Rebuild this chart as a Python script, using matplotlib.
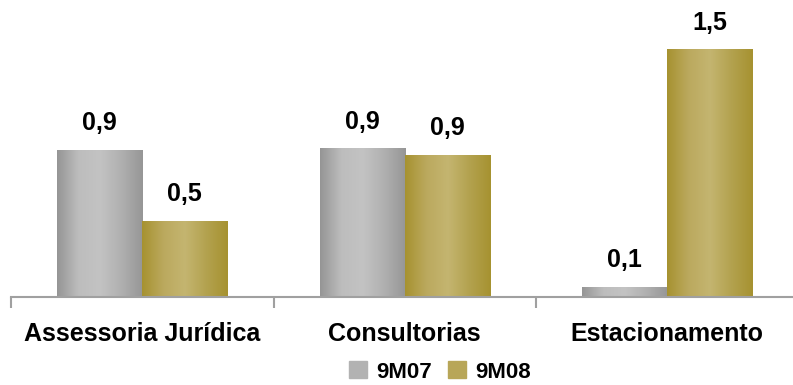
import numpy as np
import matplotlib
matplotlib.use("Agg")
import matplotlib.pyplot as plt
from matplotlib.colors import LinearSegmentedColormap
from matplotlib.patches import Rectangle

categories = ["Assessoria Jurídica", "Consultorias", "Estacionamento"]
series_names = ["9M07", "9M08"]
values_9m07 = [0.89, 0.90, 0.06]
values_9m08 = [0.46, 0.86, 1.50]
labels_9m07 = ["0,9", "0,9", "0,1"]
labels_9m08 = ["0,5", "0,9", "1,5"]

plt.rcParams["font.family"] = ["Liberation Sans", "DejaVu Sans"]

gray_cmap = LinearSegmentedColormap.from_list(
    "g", ["#959595", "#bdbdbd", "#c3c3c3", "#b0b0b0", "#969696"])
gold_cmap = LinearSegmentedColormap.from_list(
    "o", ["#a69230", "#bba95e", "#c4b570", "#b3a24f", "#a69230"])
grad = np.linspace(0, 1, 256).reshape(1, -1)

fig = plt.figure(figsize=(7.93, 3.85), dpi=100)
ax = fig.add_axes([11 / 793, 1 - 297 / 385, 787.5 / 793, 297 / 385])

x = np.arange(len(categories))
width = 0.324
ymax = 1.803


def gradient_bars(xs, vals, cmap, labels):
    for xi, v, lab in zip(xs, vals, labels):
        ax.imshow(grad, cmap=cmap, aspect="auto",
                  extent=(xi - width / 2, xi + width / 2, 0, v), zorder=2)
        ax.text(xi, v + 0.165, lab, ha="center", va="center",
                fontsize=18, fontweight="bold")


gradient_bars(x - width / 2, values_9m07, gray_cmap, labels_9m07)
gradient_bars(x + width / 2, values_9m08, gold_cmap, labels_9m08)
ax.set_xlim(-0.5, len(categories) - 0.5)
ax.set_ylim(0, ymax)

for s in ["top", "right", "left"]:
    ax.spines[s].set_visible(False)
ax.spines["bottom"].set_color("#a0a0a0")
ax.spines["bottom"].set_linewidth(1.5)
ax.set_yticks([])
ax.set_xticks(np.arange(-0.5, len(categories), 1.0))
ax.set_xticklabels([])
ax.tick_params(axis="x", length=8, width=1.5, color="#a0a0a0")
for xi, c in zip(x, categories):
    ax.text(xi, -0.225, c, ha="center", va="center", fontsize=18,
            fontweight="bold", clip_on=False)

handles = [Rectangle((0, 0), 1, 1, color="#b2b2b2"),
           Rectangle((0, 0), 1, 1, color="#b8a658")]
fig.legend(handles, series_names, loc="center", bbox_to_anchor=(440 / 793, 1 - 372 / 385),
           ncol=2, frameon=False, handlelength=0.8, handleheight=0.8,
           handletextpad=0.45, columnspacing=0.7, borderpad=0.2,
           prop={"weight": "bold", "size": 16})

fig.savefig("out.png", dpi=100)
